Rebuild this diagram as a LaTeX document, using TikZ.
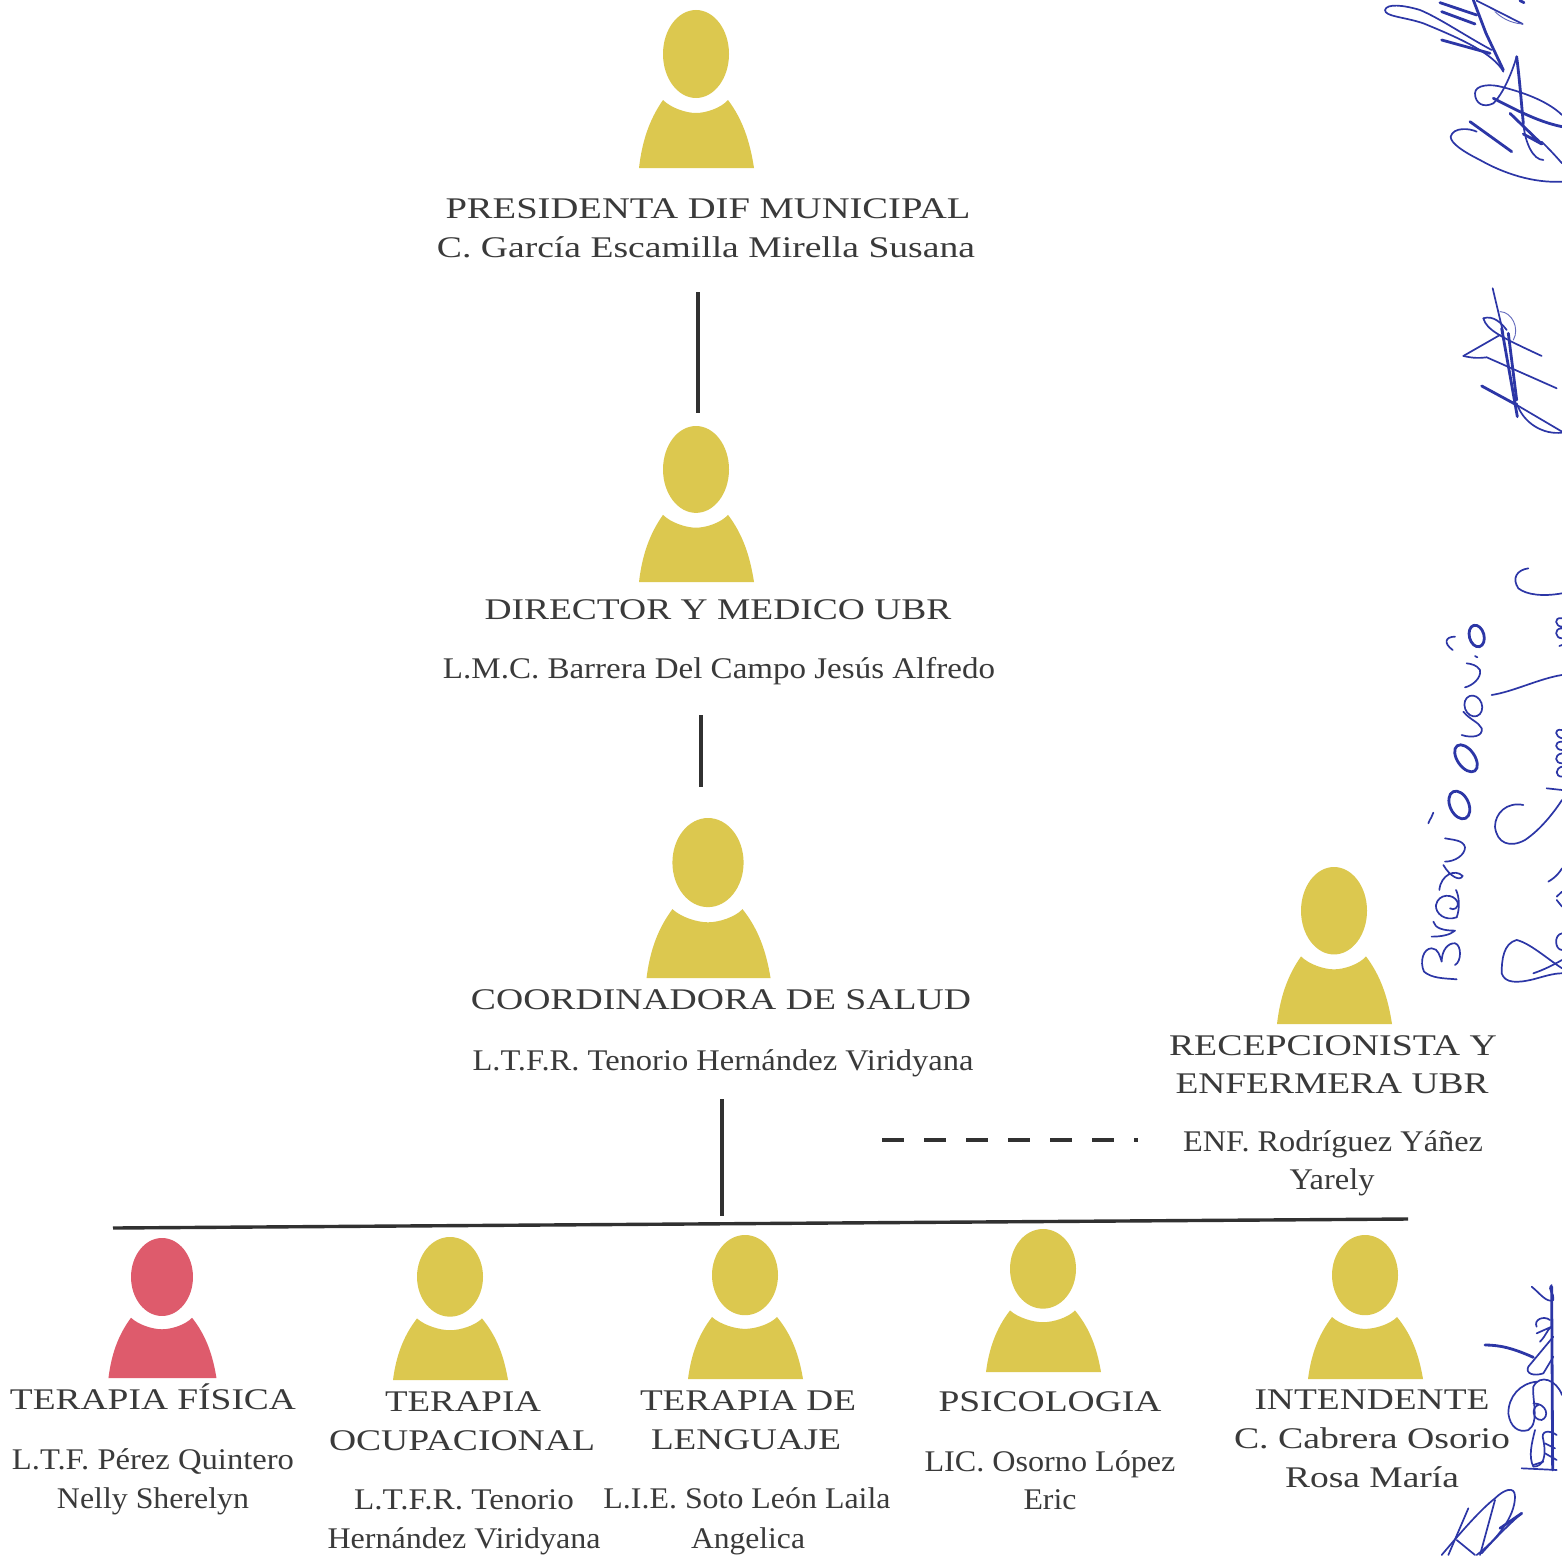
\documentclass[tikz,border=0pt]{standalone}
\usepackage{graphicx}
\usepackage{fontspec}
\setmainfont{Liberation Serif}
\definecolor{gold}{HTML}{DCC84F}
\definecolor{rose}{HTML}{DE5B6C}
\definecolor{ink}{HTML}{3A3A3A}
\definecolor{pen}{HTML}{2C36A6}
\tikzset{
  labeltext/.style={anchor=base,inner sep=0pt,outer sep=0pt,text=ink,font=\fontsize{30}{30}\selectfont},
  link/.style={line width=3.4pt,draw=ink!85!black},
  sig/.style={draw=pen,line width=1.7pt,line cap=round,line join=round},
  sigthick/.style={sig,line width=2.8pt},
  sigthin/.style={sig,line width=0.9pt,draw=pen!75}
}
% name, cx, top, bottom, width, colour
\newcommand{\person}[6]{%
  \pgfmathsetmacro{\sx}{#5/115}\pgfmathsetmacro{\sy}{(#4-#3)/158}%
  \begin{scope}[shift={(#2,#3)},xscale=\sx,yscale=\sy]
    \fill[#6] (0,44) ellipse [x radius=33,y radius=44];
    \fill[#6] (-57,158) .. controls (-54,132) and (-47,110) .. (-33,90)
       .. controls (-25,98) and (-10,103) .. (0,103)
       .. controls (10,103) and (25,98) .. (32,90)
       .. controls (47,110) and (54,132) .. (58,158) -- cycle;
    \coordinate (#1) at (0,158);
  \end{scope}}
% name, cx, baseline, width, text
\newcommand{\lab}[5]{\node[labeltext] (#1) at (#2,#3) {\resizebox{#4pt}{\height}{#5}};}
\begin{document}
\begin{tikzpicture}[x=1pt,y=-1pt]
\useasboundingbox (0,0) rectangle (1562,1555);
\fill[white] (0,0) rectangle (1562,1555);

\person{p1}{696}{10}{168}{115}{gold}
\person{p2}{696}{426}{582}{115}{gold}
\person{p3}{708}{818}{978}{124}{gold}
\person{p4}{1334}{867}{1024}{115}{gold}
\person{p5}{162}{1238}{1378}{108}{rose}
\person{p6}{450}{1237}{1380}{115}{gold}
\person{p7}{745}{1235}{1379}{115}{gold}
\person{p8}{1043}{1229}{1372}{115}{gold}
\person{p9}{1365}{1235}{1379}{115}{gold}

\lab{a1}{708}{218}{525}{PRESIDENTA DIF MUNICIPAL}
\lab{a2}{706}{257}{538}{C. García Escamilla Mirella Susana}
\lab{b1}{718}{619}{467}{DIRECTOR Y MEDICO UBR}
\lab{b2}{719}{678}{552}{L.M.C. Barrera Del Campo Jesús Alfredo}
\lab{c1}{721}{1009}{500}{COORDINADORA DE SALUD}
\lab{c2}{723}{1070}{501}{L.T.F.R. Tenorio Hernández Viridyana}
\lab{d1}{1333}{1055}{328}{RECEPCIONISTA Y}
\lab{d2}{1332}{1093}{313}{ENFERMERA UBR}
\lab{d3}{1333}{1151}{300}{ENF. Rodríguez Yáñez}
\lab{d4}{1332}{1189}{85}{Yarely}
\lab{e1}{153}{1409}{286}{TERAPIA FÍSICA}
\lab{e2}{153}{1469}{282}{L.T.F. Pérez Quintero}
\lab{e3}{153}{1508}{192}{Nelly Sherelyn}
\lab{f1}{463}{1411}{156}{TERAPIA}
\lab{f2}{462}{1450}{266}{OCUPACIONAL}
\lab{f3}{464}{1509}{220}{L.T.F.R. Tenorio}
\lab{f4}{464}{1548}{273}{Hernández Viridyana}
\lab{g1}{748}{1410}{216}{TERAPIA DE}
\lab{g2}{746}{1449}{190}{LENGUAJE}
\lab{g3}{747}{1508}{287}{L.I.E. Soto León Laila}
\lab{g4}{748}{1548}{114}{Angelica}
\lab{h1}{1050}{1411}{223}{PSICOLOGIA}
\lab{h2}{1050}{1471}{251}{LIC. Osorno López}
\lab{h3}{1050}{1509}{53}{Eric}
\lab{i1}{1372}{1409}{235}{INTENDENTE}
\lab{i2}{1372}{1448}{276}{C. Cabrera Osorio}
\lab{i3}{1372}{1487}{174}{Rosa María}

\coordinate (l1a) at (698,292); \coordinate (l1b) at (698,413);
\coordinate (l2a) at (701,715); \coordinate (l2b) at (701,787);
\coordinate (l3a) at (722,1099); \coordinate (l3b) at (722,1216);
\coordinate (bl) at (113,1228); \coordinate (br) at (1408,1219);
\coordinate (da) at (882,1140); \coordinate (db) at (1138,1140);
\draw[link] (l1a) -- (l1b);
\draw[link] (l2a) -- (l2b);
\draw[link] (l3a) -- (l3b);
\draw[link] (bl) -- (br);
\draw[link,dash pattern=on 22pt off 20pt] (da) -- (db);

% signatures, top right
\begin{scope}[shift={(1360,0)},scale=0.3333]
\draw[sig] (430,215) .. controls (400,160) and (300,115) .. (190,70) .. controls (130,50) and (75,50) .. (75,30) .. controls (80,10) and (130,15) .. (180,30) .. controls (240,55) and (320,110) .. (395,150);
\draw[sigthick] (240,8) -- (350,45); \draw[sigthick] (245,35) -- (345,72);
\draw[sigthick] (340,0) -- (378,100) -- (430,210);
\draw[sig] (350,2) -- (488,72); \draw[sigthin] (488,72) .. controls (450,70) and (420,50) .. (405,35);
\draw[sigthick] (480,2) -- (492,8);
\draw[sigthick] (245,120) -- (390,160);
\draw[sig] (470,170) .. controls (455,220) and (430,280) .. (400,310) .. controls (370,325) and (345,310) .. (345,280) .. controls (345,255) and (390,250) .. (430,262) .. controls (480,275) and (560,300) .. (606,345);
\draw[sigthick] (470,170) .. controls (480,250) and (485,320) .. (490,370);
\draw[sig] (490,370) .. controls (495,430) and (520,480) .. (550,480);
\draw[sigthick] (400,295) .. controls (450,320) and (530,365) .. (606,380);
\draw[sigthick] (450,340) -- (545,432) -- (490,402);
\draw[sigthick] (330,365) -- (455,455);
\draw[sig] (606,545) .. controls (520,550) and (430,520) .. (360,480) .. controls (310,455) and (272,430) .. (272,410) .. controls (280,380) and (330,385) .. (350,395);
\draw[sig] (606,490) .. controls (580,460) and (560,440) .. (545,425);
% second
\draw[sig] (398,865) -- (430,1000);
\draw[sigthick] (425,985) -- (472,1250);
\draw[sigthick] (445,1000) -- (470,1200);
\draw[sig] (370,955) .. controls (380,990) and (420,1010) .. (545,1068);
\draw[sig] (370,955) .. controls (400,945) and (425,970) .. (440,990);
\draw[sig] (310,1068) -- (420,1005);
\draw[sig] (310,1068) .. controls (340,1075) and (360,1075) .. (380,1072) -- (590,1165) -- (500,1125);
\draw[sigthick] (365,1158) -- (470,1215);
\draw[sig] (470,1215) -- (606,1295);
\draw[sig] (470,1210) .. controls (490,1270) and (550,1305) .. (606,1298);
\draw[sigthin] (420,935) .. controls (455,935) and (480,985) .. (460,1020);
\end{scope}

% handwritten name and second signature, right margin
\begin{scope}[shift={(1400,560)},scale=0.3333]
% B
\draw[sig] (170,1258) .. controls (130,1255) and (95,1255) .. (72,1235) .. controls (58,1205) and (70,1165) .. (95,1165) .. controls (115,1165) and (120,1190) .. (125,1205) .. controls (125,1170) and (145,1148) .. (165,1150) .. controls (185,1155) and (185,1205) .. (165,1215);
% r
\draw[sig] (95,1130) .. controls (125,1130) and (150,1125) .. (165,1112) .. controls (130,1112) and (105,1105) .. (100,1085);
% a
\draw[sig] (170,1072) .. controls (135,1085) and (105,1060) .. (108,1035) .. controls (115,1000) and (160,1000) .. (172,1025) .. controls (178,1045) and (160,1052) .. (150,1045);
\draw[sig] (170,1072) .. controls (180,1045) and (178,1010) .. (168,990);
% v
\draw[sig] (118,990) .. controls (122,945) and (165,925) .. (188,948) .. controls (180,965) and (150,950) .. (130,915);
% r
\draw[sig] (135,905) .. controls (165,905) and (195,885) .. (195,862) .. controls (190,840) and (160,840) .. (135,835);
\draw[sig] (85,790) .. controls (90,775) and (98,770) .. (100,758);
% O
\draw[sigthick,rotate around={25:(178,735)}] (178,735) ellipse [x radius=28,y radius=44];
\draw[sigthick,rotate around={35:(198,595)}] (198,595) ellipse [x radius=26,y radius=46];
% s
\draw[sig] (185,525) .. controls (215,535) and (250,530) .. (245,505) .. controls (235,485) and (210,480) .. (190,455);
% o
\draw[sig,rotate around={20:(220,438)}] (220,438) ellipse [x radius=26,y radius=32];
% r
\draw[sig] (195,382) .. controls (215,378) and (245,355) .. (240,330) .. controls (230,315) and (215,312) .. (200,310);
\draw[sig] (225,288) -- (232,292);
% o
\draw[sigthick,rotate around={15:(230,228)}] (230,228) ellipse [x radius=22,y radius=33];
\draw[sig] (165,230) .. controls (135,230) and (130,250) .. (158,270);
% second name
\draw[sig] (385,25) .. controls (350,30) and (335,55) .. (355,85) .. controls (380,105) and (430,110) .. (486,100);
\draw[sig] (275,405) .. controls (340,395) and (420,355) .. (486,345);
\draw[sig] (486,175) .. controls (460,170) and (465,200) .. (486,200) (486,205) .. controls (460,205) and (465,235) .. (486,235) (486,255) -- (478,258);
\draw[sig] (486,510) .. controls (460,505) and (465,530) .. (486,535) (486,545) .. controls (460,545) and (465,570) .. (486,570) (486,580) .. controls (460,585) and (465,610) .. (486,610) (486,620) .. controls (465,625) and (465,650) .. (486,650);
\draw[sig] (440,685) -- (486,690);
\draw[sig] (370,735) .. controls (320,725) and (285,760) .. (285,800) .. controls (290,850) and (330,865) .. (375,840) .. controls (420,810) and (460,760) .. (486,720);
\draw[sig] (350,1140) .. controls (310,1150) and (305,1200) .. (305,1240) .. controls (315,1270) and (350,1270) .. (400,1258) .. controls (430,1250) and (460,1240) .. (486,1240);
\draw[sig] (350,1140) .. controls (390,1150) and (440,1195) .. (486,1225);
\draw[sig] (400,1240) .. controls (430,1230) and (460,1215) .. (486,1200);
\draw[sig] (486,1120) .. controls (460,1125) and (465,1170) .. (486,1170);
\draw[sig] (445,965) .. controls (470,950) and (480,935) .. (486,925) (470,1010) -- (486,995) (470,1020) -- (486,1040);
\end{scope}

% signatures, lower right
\begin{scope}[shift={(1400,1270)},scale=0.3333]
\draw[sigthick] (255,225) .. controls (300,225) and (340,235) .. (400,262);
\draw[sigthick] (455,50) -- (458,600);
\draw[sig] (470,600) -- (365,595);
\draw[sig] (395,50) .. controls (420,70) and (440,100) .. (460,90) .. controls (465,70) and (440,60) .. (455,45);
\draw[sig] (410,170) .. controls (400,150) and (430,135) .. (450,150);
\draw[sig] (420,215) .. controls (440,195) and (440,180) .. (455,170) -- (410,190);
\draw[sig] (460,200) -- (385,290) .. controls (375,310) and (400,320) .. (430,310) -- (460,260);
\draw[sig] (410,335) .. controls (360,340) and (325,380) .. (325,430) .. controls (330,470) and (355,490) .. (385,480) .. controls (420,460) and (395,380) .. (400,350) .. controls (420,310) and (470,330) .. (486,375);
\draw[sig] (400,400) .. controls (440,400) and (450,440) .. (425,450) .. controls (395,450) and (395,410) .. (415,405);
\draw[sig] (405,480) .. controls (395,520) and (385,560) .. (400,590) .. controls (430,590) and (440,560) .. (430,510) .. controls (420,480) and (450,480) .. (470,495);
\draw[sig] (400,585) -- (430,575) (435,520) -- (465,535) (435,550) -- (470,570);
\draw[sig] (125,855) .. controls (180,790) and (240,720) .. (285,685) .. controls (310,660) and (345,645) .. (345,680) .. controls (345,740) and (290,810) .. (230,855);
\draw[sig] (365,730) .. controls (330,760) and (280,810) .. (245,850);
\draw[sigthick] (300,775) -- (365,730);
\draw[sig] (205,715) -- (145,855);
\draw[sig] (285,690) -- (240,855);
\draw[sig] (170,810) -- (225,855);
\end{scope}
\end{tikzpicture}
\end{document}
